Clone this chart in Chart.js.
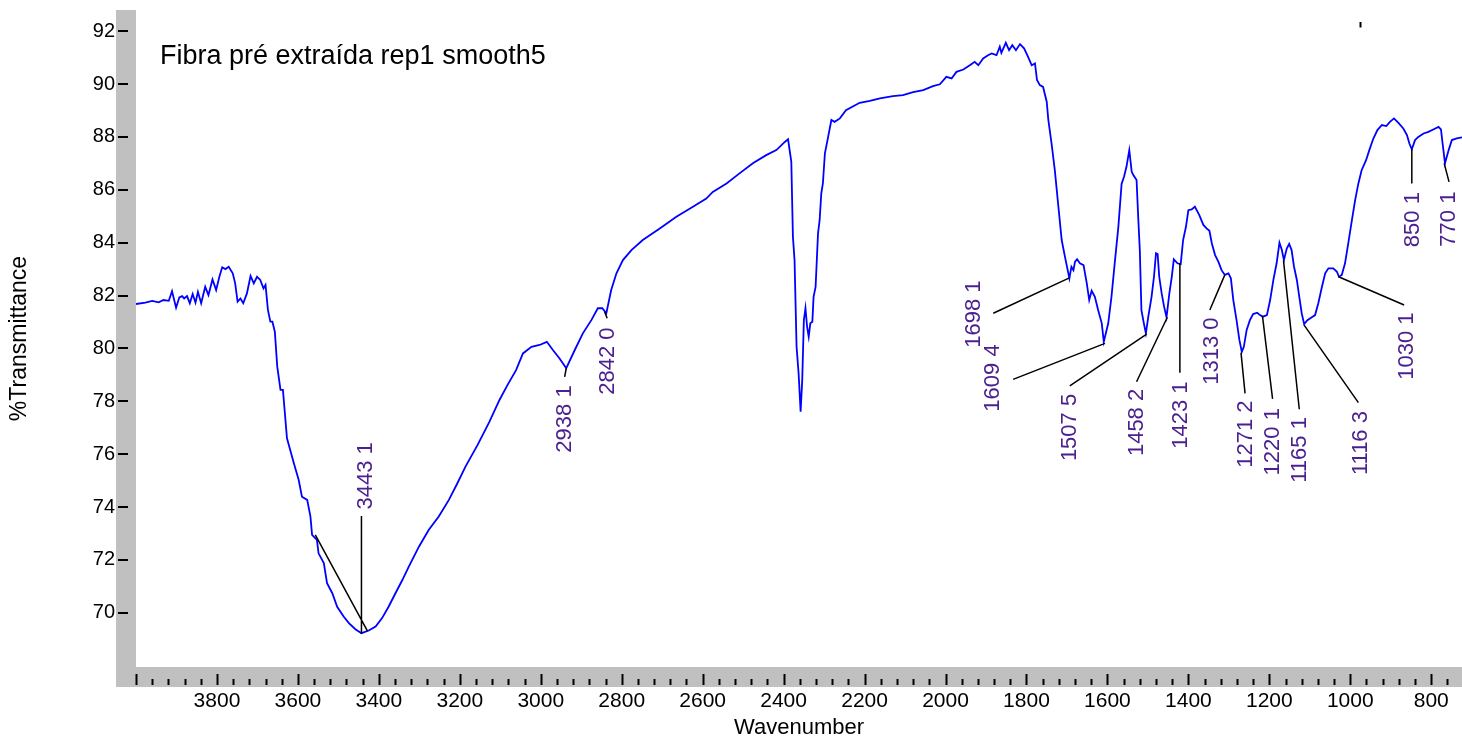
<!DOCTYPE html>
<html>
<head>
<meta charset="utf-8">
<title>Fibra pré extraída rep1 smooth5</title>
<script src="https://cdn.jsdelivr.net/npm/chart.js@4.4.1/dist/chart.umd.min.js"></script>
<style>
  html, body { margin: 0; padding: 0; background: #fff; }
  #wrap { width: 1462px; height: 740px; }
</style>
</head>
<body>
<div id="wrap"><canvas id="ftir" width="1462" height="740"></canvas></div>
<script>
// FTIR spectrum: wavenumber (cm-1) and %T
const wavenumber = [
  4000, 3977, 3960, 3944, 3932, 3919, 3911, 3901, 3893, 3886,
  3881, 3874, 3867, 3860, 3853, 3847, 3839, 3829, 3821, 3811,
  3802, 3794, 3787, 3779, 3771, 3761, 3755, 3749, 3742, 3735,
  3726, 3717, 3709, 3701, 3693, 3685, 3680, 3674, 3668, 3663,
  3657, 3651, 3643, 3637, 3627, 3619, 3610, 3598, 3590, 3577,
  3569, 3565, 3553, 3549, 3536, 3528, 3515, 3503, 3487, 3474,
  3458, 3443, 3425, 3408, 3392, 3376, 3359, 3342, 3326, 3301,
  3277, 3252, 3227, 3206, 3186, 3156, 3127, 3102, 3082, 3061,
  3044, 3023, 3003, 2985, 2970, 2954, 2937, 2916, 2896, 2875,
  2859, 2848, 2838, 2826, 2813, 2797, 2776, 2748, 2706, 2665,
  2624, 2591, 2575, 2541, 2509, 2476, 2443, 2418, 2397, 2389,
  2381, 2377, 2373, 2368, 2363, 2358, 2354, 2350, 2346, 2342,
  2338, 2334, 2329, 2326, 2321, 2315, 2311, 2307, 2303, 2298,
  2290, 2282, 2274, 2261, 2246, 2228, 2212, 2187, 2162, 2130,
  2105, 2080, 2055, 2031, 2014, 1998, 1985, 1973, 1956, 1940,
  1928, 1919, 1907, 1895, 1886, 1874, 1866, 1862, 1851, 1843,
  1835, 1826, 1816, 1806, 1796, 1787, 1779, 1774, 1767, 1759,
  1750, 1746, 1738, 1730, 1722, 1713, 1705, 1694, 1689, 1684,
  1680, 1675, 1668, 1659, 1651, 1645, 1639, 1631, 1623, 1614,
  1609, 1598, 1590, 1582, 1573, 1565, 1559, 1553, 1546, 1540,
  1536, 1528, 1524, 1520, 1516, 1510, 1505, 1499, 1491, 1485,
  1480, 1476, 1472, 1466, 1460, 1454, 1447, 1441, 1436, 1427,
  1419, 1413, 1406, 1400, 1392, 1384, 1373, 1363, 1355, 1348,
  1342, 1334, 1326, 1318, 1310, 1301, 1295, 1289, 1281, 1274,
  1268, 1263, 1256, 1248, 1240, 1230, 1223, 1216, 1206, 1198,
  1190, 1182, 1175, 1169, 1164, 1157, 1151, 1145, 1139, 1132,
  1126, 1120, 1114, 1106, 1095, 1087, 1079, 1070, 1062, 1054,
  1042, 1033, 1028, 1021, 1013, 1005, 996, 988, 980, 972,
  961, 953, 943, 933, 922, 911, 902, 892, 881, 869,
  860, 854, 848, 840, 832, 819, 807, 795, 782, 776,
  771, 766, 757, 749, 737, 724
]
const transmittance = [
  81.68, 81.73, 81.80, 81.74, 81.83, 81.80, 82.16, 81.54, 81.93, 81.98,
  81.89, 81.98, 81.71, 82.06, 81.73, 82.14, 81.71, 82.33, 82.02, 82.61,
  82.21, 82.71, 83.07, 83.00, 83.09, 82.84, 82.46, 81.77, 81.89, 81.71,
  82.08, 82.74, 82.46, 82.71, 82.59, 82.27, 82.40, 81.45, 81.01, 81.01,
  80.63, 79.31, 78.43, 78.43, 76.60, 76.16, 75.66, 75.02, 74.39, 74.27,
  73.64, 72.95, 72.76, 72.25, 71.88, 71.12, 70.74, 70.23, 69.86, 69.61,
  69.38, 69.23, 69.33, 69.48, 69.80, 70.23, 70.74, 71.24, 71.75, 72.50,
  73.13, 73.64, 74.27, 74.90, 75.53, 76.35, 77.22, 78.05, 78.62, 79.18,
  79.81, 80.06, 80.13, 80.25, 79.94, 79.63, 79.25, 79.94, 80.57, 81.07,
  81.52, 81.52, 81.33, 82.21, 82.84, 83.34, 83.72, 84.10, 84.54, 84.98,
  85.36, 85.67, 85.92, 86.24, 86.62, 87.00, 87.31, 87.50, 87.81, 87.91,
  87.06, 84.22, 83.34, 80.06, 79.06, 77.61, 78.81, 81.07, 81.52, 80.82,
  80.44, 80.95, 81.01, 81.95, 82.33, 84.35, 84.85, 85.86, 86.24, 87.38,
  88.00, 88.64, 88.57, 88.70, 89.01, 89.16, 89.29, 89.36, 89.46, 89.54,
  89.58, 89.69, 89.77, 89.92, 89.99, 90.27, 90.21, 90.46, 90.55, 90.71,
  90.84, 90.71, 90.97, 91.09, 91.16, 91.09, 91.41, 91.18, 91.56, 91.28,
  91.47, 91.28, 91.51, 91.35, 91.03, 90.71, 90.78, 90.15, 89.96, 89.89,
  89.33, 88.64, 87.75, 86.74, 85.49, 84.10, 83.47, 82.65, 83.09, 82.96,
  83.28, 83.37, 83.22, 83.15, 82.46, 81.83, 82.18, 81.95, 81.45, 80.95,
  80.25, 80.95, 81.95, 83.22, 84.60, 86.22, 86.49, 86.87, 87.50, 86.68,
  86.56, 86.37, 84.98, 83.72, 81.45, 80.95, 80.57, 81.20, 81.95, 82.71,
  83.60, 83.57, 82.71, 82.08, 81.58, 81.18, 82.08, 82.71, 83.37, 83.22,
  83.19, 84.10, 84.60, 85.23, 85.26, 85.36, 85.04, 84.67, 84.54, 84.45,
  83.97, 83.53, 83.28, 82.96, 82.78, 82.84, 82.65, 81.83, 81.07, 80.32,
  79.87, 80.06, 80.70, 81.07, 81.30, 81.35, 81.26, 81.20, 81.26, 81.83,
  82.59, 83.22, 84.00, 83.72, 83.34, 83.78, 83.95, 83.72, 83.09, 82.59,
  81.95, 81.33, 80.92, 81.07, 81.18, 81.26, 81.71, 82.33, 82.84, 83.03,
  83.03, 82.90, 82.71, 82.78, 83.22, 83.97, 84.85, 85.61, 86.24, 86.74,
  87.12, 87.50, 87.94, 88.26, 88.45, 88.41, 88.57, 88.70, 88.53, 88.32,
  88.07, 87.75, 87.53, 87.88, 88.00, 88.13, 88.19, 88.28, 88.38, 88.28,
  87.63, 87.00, 87.50, 87.88, 87.94, 87.98
]

// tick labels
const xTicks = [3800, 3600, 3400, 3200, 3000, 2800, 2600, 2400, 2200, 2000, 1800, 1600, 1400, 1200, 1000, 800]
const yTicks = [70, 72, 74, 76, 78, 80, 82, 84, 86, 88, 90, 92]

// peak picks: label, peak point, end of the leader line, centre of the label
const peakText = ['3443 1', '2938 1', '2842 0', '1698 1', '1609 4', '1507 5', '1458 2', '1423 1',
                  '1313 0', '1271 2', '1220 1', '1165 1', '1116 3', '1030 1', '850 1', '770 1']
const peakWn = [3443, 2937, 2842, 1694, 1606, 1503, 1452, 1421, 1310, 1270, 1217, 1165, 1114, 1029, 848, 768]
const peakT = [69.2, 79.25, 81.38, 82.67, 80.19, 80.54, 81.18, 83.22, 82.78, 79.84, 81.23, 83.32, 80.88, 82.71, 87.53, 87.0]
const leaderWn = [3443, 2941, 2836, 1882, 1833, 1693, 1528, 1421, 1347, 1260, 1192, 1126, 980, 867, 848, 756]
const leaderT = [73.66, 78.92, 81.14, 81.33, 78.83, 78.58, 78.74, 79.08, 81.45, 78.3, 78.09, 77.7, 77.95, 81.64, 86.24, 86.3]
const labelWn = [3433, 2940, 2834, 1929, 1883, 1693, 1527, 1418, 1343, 1259, 1190, 1124, 973, 861, 845, 756]
const labelT = [75.18, 77.33, 79.52, 81.3, 78.88, 77.01, 77.2, 77.48, 79.9, 76.76, 76.47, 76.16, 76.42, 80.09, 84.87, 84.89]

// baseline drawn under the 3443 band
const baseWn = [3557, 3428]
const baseT = [72.95, 69.31]

// small cursor mark at the top of the plot
const markWn = 976
const markT = [92.35, 92.14]

const FONT = "'Liberation Sans', Arial, sans-serif"
const GREY = '#c0c0c0'
const PURPLE = '#4b2190'

const spectrum = wavenumber.map((wn, i) => ({ x: wn, y: transmittance[i] }))

// scales get a fixed size and no edge padding, so the plot area sits where the original one does
function fixBox(size) {
  return s => {
    if (s.isHorizontal()) s.height = size
    else s.width = size
    s.paddingTop = s.paddingBottom = s.paddingLeft = s.paddingRight = 0
  }
}

// grey frame, tick marks and the sample name
const framePlugin = {
  id: 'frame',
  beforeDraw(chart) {
    const { ctx, chartArea: a } = chart
    ctx.save()
    ctx.fillStyle = GREY
    ctx.fillRect(a.left - 20, a.top, 20, a.bottom - a.top + 20)
    ctx.fillRect(a.left - 20, a.bottom, a.right - a.left + 20, 20)
    ctx.restore()
  },
  afterDraw(chart) {
    const { ctx, chartArea: a, scales: { x, y } } = chart
    ctx.save()
    ctx.strokeStyle = '#000'
    ctx.lineWidth = 2
    ctx.beginPath()
    yTicks.forEach(v => {
      const py = Math.round(y.getPixelForValue(v))
      ctx.moveTo(a.left - 18, py)
      ctx.lineTo(a.left - 8, py)
    })
    for (let v = 4000; v >= x.min; v -= 40) {
      const px = Math.round(x.getPixelForValue(v)) + 0.5
      ctx.moveTo(px, a.bottom + (v % 200 === 0 ? 7 : 12))
      ctx.lineTo(px, a.bottom + 18)
    }
    const mx = Math.round(x.getPixelForValue(markWn)) + 0.5
    ctx.moveTo(mx, y.getPixelForValue(markT[0]))
    ctx.lineTo(mx, y.getPixelForValue(markT[1]))
    ctx.stroke()

    ctx.fillStyle = '#000'
    ctx.font = '27px ' + FONT
    ctx.textAlign = 'left'
    ctx.textBaseline = 'alphabetic'
    ctx.fillText('Fibra pré extraída rep1 smooth5', 160, 64)
    ctx.restore()
  }
}

// leader lines and rotated peak labels
const peakPlugin = {
  id: 'peaks',
  afterDatasetsDraw(chart) {
    const { ctx, scales: { x, y } } = chart
    ctx.save()
    ctx.strokeStyle = '#000'
    ctx.lineWidth = 1.5
    ctx.beginPath()
    ctx.moveTo(x.getPixelForValue(baseWn[0]), y.getPixelForValue(baseT[0]))
    ctx.lineTo(x.getPixelForValue(baseWn[1]), y.getPixelForValue(baseT[1]))
    peakText.forEach((t, i) => {
      ctx.moveTo(x.getPixelForValue(peakWn[i]), y.getPixelForValue(peakT[i]))
      ctx.lineTo(x.getPixelForValue(leaderWn[i]), y.getPixelForValue(leaderT[i]))
    })
    ctx.stroke()

    ctx.fillStyle = PURPLE
    ctx.font = '22px ' + FONT
    ctx.textAlign = 'center'
    ctx.textBaseline = 'middle'
    peakText.forEach((t, i) => {
      ctx.save()
      ctx.translate(x.getPixelForValue(labelWn[i]), y.getPixelForValue(labelT[i]))
      ctx.rotate(-Math.PI / 2)
      ctx.fillText(t, 0, 0)
      ctx.restore()
    })
    ctx.restore()
  }
}

const config = {
  type: 'line',
  data: {
    datasets: [{
      label: 'Fibra pré extraída rep1 smooth5',
      data: spectrum,
      borderColor: '#0000ff',
      borderWidth: 1.8,
      pointRadius: 0,
      tension: 0,
      fill: false
    }]
  },
  options: {
    responsive: false,
    animation: false,
    layout: { padding: { top: 10, right: 0, bottom: 0, left: 0 } },
    plugins: {
      legend: { display: false },
      tooltip: { enabled: false }
    },
    scales: {
      x: {
        type: 'linear',
        reverse: true,
        min: 724,
        max: 4000,
        afterFit: fixBox(73),
        afterBuildTicks(s) { s.ticks = xTicks.map(v => ({ value: v })) },
        grid: { display: false, drawTicks: false },
        border: { display: false },
        ticks: {
          color: '#000',
          padding: 22,
          maxRotation: 0,
          autoSkip: false,
          font: { family: FONT, size: 21 },
          callback: v => String(v)
        },
        title: {
          display: true,
          text: 'Wavenumber',
          color: '#000',
          font: { family: FONT, size: 22 },
          padding: { top: 0, bottom: -1 }
        }
      },
      y: {
        min: 67.95,
        max: 92.8,
        afterFit: fixBox(136),
        afterBuildTicks(s) { s.ticks = yTicks.map(v => ({ value: v })) },
        grid: { display: false, drawTicks: false },
        border: { display: false },
        ticks: {
          color: '#000',
          padding: 21,
          autoSkip: false,
          font: { family: FONT, size: 20 },
          callback: v => String(v)
        },
        title: {
          display: true,
          text: '%Transmittance',
          color: '#000',
          font: { family: FONT, size: 23 },
          padding: { top: 6, bottom: 0 }
        }
      }
    }
  },
  plugins: [framePlugin, peakPlugin]
}

new Chart(document.getElementById('ftir'), config)
</script>
</body>
</html>
